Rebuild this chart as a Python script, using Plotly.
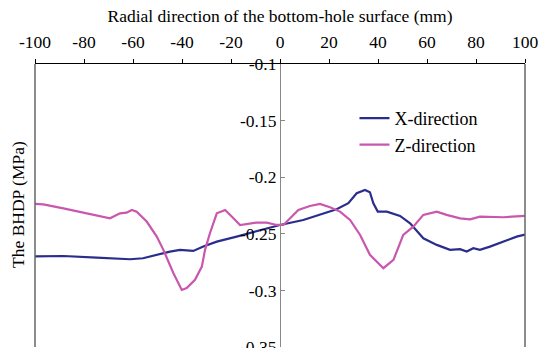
import plotly.graph_objects as go

# X-direction series (radial position mm, BHDP MPa)
x_dir_pos = [-100, -88.4, -74.8, -61.2, -55.9, -50.3, -44.9, -40.8, -35.4, -31.3, -25.8, -17.7, -9.5, -4.1,
             0, 9.5, 16.3, 23.1, 27.9, 31.3, 34.7, 36.7, 38.1, 39.9, 43.6, 49, 53.1, 58.5, 64, 69.4,
             73.5, 76.2, 78.9, 81.6, 85.7, 91.1, 96.6, 100]
x_dir_val = [-0.270, -0.2696, -0.271, -0.2725, -0.2716, -0.2686, -0.2657, -0.2642, -0.2651, -0.2613, -0.2569,
             -0.2525, -0.248, -0.245, -0.2422, -0.2378, -0.2333, -0.2283, -0.223, -0.2142, -0.2113, -0.2133,
             -0.223, -0.2304, -0.2304, -0.2342, -0.2407, -0.254, -0.2598, -0.2642, -0.2636, -0.2657, -0.2627,
             -0.2642, -0.2613, -0.2569, -0.2525, -0.2507]

# Z-direction series
z_dir_pos = [-100, -96.6, -88.4, -80.3, -74.8, -69.4, -65.3, -62.6, -60.5, -58.5, -54.4, -50.3, -47.6, -43.5,
             -40.1, -38.1, -34.7, -31.9, -30.6, -28.6, -25.8, -22.4, -19.7, -16.3, -9.5, -5.4, -1.3,
             1.4, 7.5, 12.2, 16.3, 20.4, 24.5, 28.6, 32.7, 36.7, 42.2, 46.3, 50.3, 54.4, 58.5, 64, 68.0,
             73.5, 77.6, 81.6, 91.1, 100]
z_dir_val = [-0.2236, -0.224, -0.2275, -0.2313, -0.2342, -0.2363, -0.2319, -0.2313, -0.229, -0.2304, -0.2392,
             -0.2525, -0.2642, -0.2848, -0.2996, -0.298, -0.2907, -0.279, -0.2642, -0.2495, -0.2319, -0.229,
             -0.2348, -0.2422, -0.2401, -0.2401, -0.2422, -0.2422, -0.229, -0.2254, -0.2236, -0.2266, -0.2304,
             -0.2378, -0.251, -0.2686, -0.2804, -0.2731, -0.251, -0.2437, -0.2333, -0.2304, -0.2333, -0.2363,
             -0.2372, -0.2348, -0.2354, -0.2342]

x_ticks = [-100, -80, -60, -40, -20, 0, 20, 40, 60, 80, 100]
x_tick_text = ["-100", "-80", "-60", "-40", "-20", "0", "20", "40", "60", "80", "100"]
y_ticks = [-0.35, -0.3, -0.25, -0.2, -0.15, -0.1]
y_tick_text = ["-0.35", "-0.3", "-0.25", "-0.2", "-0.15", "-0.1"]

FONT = "Times New Roman, Liberation Serif, serif"

fig = go.Figure()
fig.add_trace(go.Scatter(x=x_dir_pos, y=x_dir_val, mode="lines", name="X-direction",
                         line=dict(color="#2B2D8C", width=2.2)))
fig.add_trace(go.Scatter(x=z_dir_pos, y=z_dir_val, mode="lines", name="Z-direction",
                         line=dict(color="#C957AD", width=2.2)))

fig.update_layout(
    width=549, height=348,
    margin=dict(l=35, r=24, t=64, b=1, autoexpand=False),
    paper_bgcolor="white", plot_bgcolor="white",
    font=dict(family=FONT, size=17.5, color="black"),
    showlegend=True,
    legend=dict(x=0.652, y=0.873, xanchor="left", yanchor="top", bgcolor="rgba(0,0,0,0)",
                font=dict(family=FONT, size=18), itemwidth=30, tracegroupgap=0),
    xaxis=dict(side="top", range=[-100, 100], tickvals=x_ticks, ticktext=x_tick_text,
               ticks="outside", ticklen=4, tickcolor="black", showline=True, linecolor="black",
               linewidth=1, showgrid=False, zeroline=False, automargin=False,
               tickfont=dict(family=FONT, size=17.5), ticklabelstandoff=4,
               title=dict(text="Radial direction of the bottom-hole surface (mm)",
                          font=dict(family=FONT, size=17.5), standoff=4)),
    yaxis=dict(range=[-0.35, -0.1], tickvals=y_ticks, ticktext=y_tick_text,
               anchor="free", position=0.5, side="left", ticklabeloverflow="allow",
               ticks="inside", ticklen=4, tickcolor="#888", showline=True, linecolor="#888",
               linewidth=1, showgrid=False, zeroline=False, automargin=False,
               tickfont=dict(family=FONT, size=17.5)),
    shapes=[dict(type="line", xref="paper", yref="paper", x0=0, x1=0, y0=0, y1=1,
                 line=dict(color="#666", width=1.5)),
            dict(type="line", xref="paper", yref="paper", x0=1, x1=1, y0=0, y1=1,
                 line=dict(color="#666", width=1.5))],
    annotations=[dict(text="The BHDP (MPa)", xref="paper", yref="paper", x=-0.035, y=0.505,
                      xanchor="center", yanchor="middle", textangle=-90, showarrow=False,
                      font=dict(family=FONT, size=17.5))],
)

fig.write_html("out.html")
